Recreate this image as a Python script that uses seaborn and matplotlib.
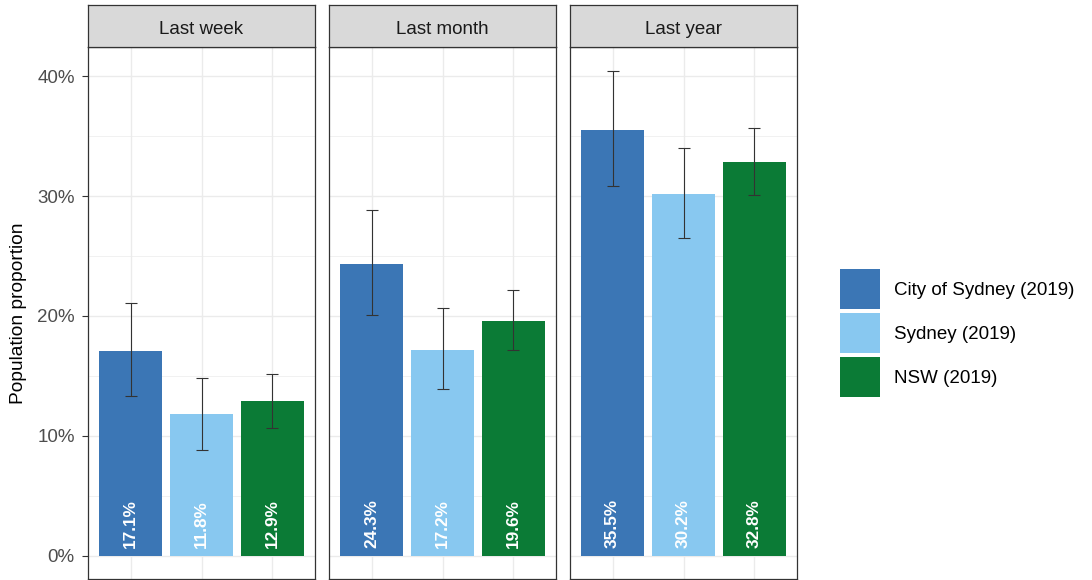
import matplotlib
matplotlib.use("Agg")
import matplotlib.pyplot as plt
from matplotlib.patches import Patch
from matplotlib.ticker import FixedLocator, FuncFormatter
import numpy as np
import pandas as pd
import seaborn as sns

# ---- data -------------------------------------------------------------
periods = ["Last week", "Last month", "Last year"]
areas = ["City of Sydney (2019)", "Sydney (2019)", "NSW (2019)"]
colors = ["#3B76B5", "#88C8F0", "#0B7B36"]

# proportion (%) per period, ordered as `areas`
last_week = [17.1, 11.8, 12.9]
last_month = [24.3, 17.2, 19.6]
last_year = [35.5, 30.2, 32.8]

# 95% confidence interval bounds (%)
week_lo = [13.3, 8.8, 10.7]
week_hi = [21.1, 14.8, 15.2]
month_lo = [20.1, 13.9, 17.2]
month_hi = [28.8, 20.7, 22.2]
year_lo = [30.8, 26.5, 30.1]
year_hi = [40.4, 34.0, 35.7]

y_ticks = [0, 10, 20, 30, 40]
y_minor = [5, 15, 25, 35]

rows = []
for p, vals, lo, hi in zip(periods,
                           [last_week, last_month, last_year],
                           [week_lo, month_lo, year_lo],
                           [week_hi, month_hi, year_hi]):
    for a, v, l, h in zip(areas, vals, lo, hi):
        rows.append({"period": p, "area": a, "value": v, "lo": l, "hi": h})
df = pd.DataFrame(rows)

# ---- style ------------------------------------------------------------
plt.rcParams["font.family"] = ["Liberation Sans", "DejaVu Sans"]
BORDER = "#333333"
GRID = "#EBEBEB"

W, H = 1092, 580
fig = plt.figure(figsize=(W / 100, H / 100), dpi=100)
fig.patch.set_facecolor("white")

panel_left = [88, 329, 570]
panel_w = 227
panel_top, panel_bottom = 47, 579
strip_top = 5


def fx(px):
    return px / W


def fy(py):
    return 1 - py / H


palette = dict(zip(areas, colors))

for i, p in enumerate(periods):
    sub = df[df["period"] == p].reset_index(drop=True)
    ax = fig.add_axes([fx(panel_left[i]), fy(panel_bottom), fx(panel_w),
                       (panel_bottom - panel_top) / H])
    sns.barplot(data=sub, x="area", y="value", hue="area", order=areas,
                hue_order=areas, palette=palette, width=0.9, errorbar=None,
                legend=False, linewidth=0, saturation=1, ax=ax, zorder=2)
    xs = np.arange(len(areas))
    ax.errorbar(xs, sub["value"],
                yerr=[sub["value"] - sub["lo"], sub["hi"] - sub["value"]],
                fmt="none", ecolor=BORDER, elinewidth=0.8, capsize=4,
                capthick=0.8, zorder=3)
    for x, v in zip(xs, sub["value"]):
        ax.text(x, 0.67, f"{v:.1f}%", rotation=90, ha="center", va="bottom",
                color="white", fontsize=12.4, fontweight="bold", zorder=4)

    ax.set_xlim(-0.6, 2.6)
    ax.set_ylim(-1.92, 42.42)
    ax.set_facecolor("white")
    ax.set_axisbelow(True)
    ax.set_xticks(xs)
    ax.yaxis.set_major_locator(FixedLocator(y_ticks))
    ax.yaxis.set_minor_locator(FixedLocator(y_minor))
    ax.grid(which="major", axis="both", color=GRID, linewidth=1.0, zorder=0)
    ax.grid(which="minor", axis="y", color=GRID, linewidth=0.5, zorder=0)
    ax.tick_params(axis="x", which="both", length=0, labelbottom=False)
    ax.tick_params(axis="y", which="minor", length=0)
    ax.set_xlabel("")
    ax.set_ylabel("")
    for s in ax.spines.values():
        s.set_color(BORDER)
        s.set_linewidth(0.9)
    if i == 0:
        ax.yaxis.set_major_formatter(FuncFormatter(lambda v, _: f"{v:.0f}%"))
        ax.tick_params(axis="y", which="major", length=4.5, width=0.8,
                       color=BORDER, labelcolor="#4D4D4D", labelsize=13.5,
                       pad=5)
    else:
        ax.tick_params(axis="y", which="major", length=0, labelleft=False)

    # facet strip
    sax = fig.add_axes([fx(panel_left[i]), fy(panel_top), fx(panel_w),
                        (panel_top - strip_top) / H])
    sax.set_facecolor("#D9D9D9")
    sax.set_xticks([])
    sax.set_yticks([])
    for s in sax.spines.values():
        s.set_color(BORDER)
        s.set_linewidth(0.9)
    sax.text(0.5, 0.31, p, ha="center", va="baseline", fontsize=13.5,
             color="#1A1A1A", transform=sax.transAxes)

fig.text(fx(19), fy((panel_top + panel_bottom) / 2), "Population proportion",
         rotation=90, ha="center", va="center", fontsize=13.8, color="black")

# legend: 40px square keys
fs = 13.5
fpx = fs * 100 / 72
key_px = 40
hh = (key_px / fpx - 0.245) / 0.65
handles = [Patch(facecolor=c, edgecolor="none", label=a)
           for a, c in zip(areas, colors)]
fig.legend(handles=handles, loc="upper left",
           bbox_to_anchor=(fx(840), fy(269)), frameon=False, fontsize=fs,
           handlelength=key_px / fpx, handleheight=hh,
           handletextpad=14 / fpx, labelspacing=4 / fpx, borderpad=0,
           borderaxespad=0)

fig.savefig("out.png", dpi=100, facecolor="white")
